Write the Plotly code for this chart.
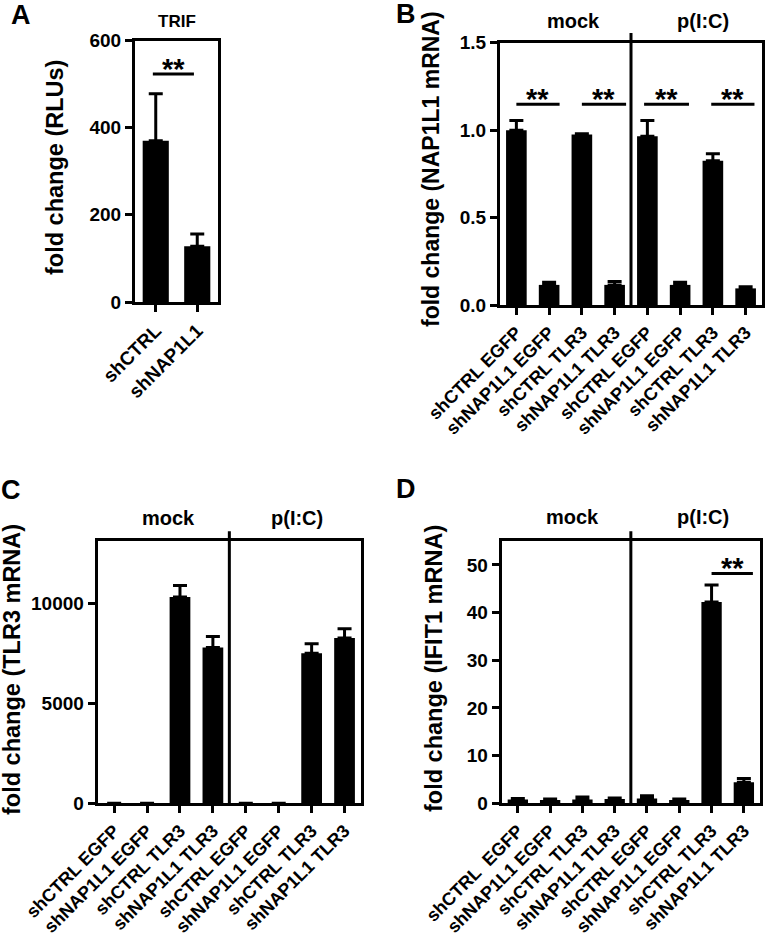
import plotly.graph_objects as go

# ---------------- data ----------------
A_cats = ["shCTRL", "shNAP1L1"]
A_vals = [370, 128]
A_sem = [108, 28]

grp_labels = ["shCTRL EGFP", "shNAP1L1 EGFP", "shCTRL TLR3", "shNAP1L1 TLR3",
              "shCTRL EGFP", "shNAP1L1 EGFP", "shCTRL TLR3", "shNAP1L1 TLR3"]
D_labels = ["shCTRL\u00a0 EGFP", "shNAP1L1 EGFP", "shCTRL TLR3", "shNAP1L1 TLR3",
            "shCTRL EGFP", "shNAP1L1 EGFP", "shCTRL TLR3", "shNAP1L1 TLR3"]

B_vals = [1.0, 0.115, 0.975, 0.115, 0.965, 0.115, 0.825, 0.095]
B_sem = [0.055, 0.015, 0.005, 0.02, 0.09, 0.015, 0.04, 0.01]

C_vals = [1, 1, 10300, 7780, 1, 1, 7500, 8250]
C_sem = [0, 0, 580, 550, 0, 0, 470, 470]

D_vals = [0.8, 0.7, 0.8, 0.9, 1.0, 0.7, 42.2, 4.4]
D_sem = [0.2, 0.2, 0.5, 0.2, 0.6, 0.2, 3.6, 0.8]

# significance bars: (x0, x1, y)
A_sig = [(-0.07, 0.92, 523)]
B_sig = [(0.0, 1.32, 1.148), (2.0, 3.35, 1.148), (3.9, 5.27, 1.148), (5.95, 7.27, 1.148)]
D_sig = [(6.0, 7.28, 48.2)]

W, H = 766, 943
FONT = "Liberation Sans, Arial, sans-serif"


def px(x):
    return x / W


def py(y):
    return 1 - y / H


fig = go.Figure()

idx8 = list(range(len(grp_labels)))

err_style = dict(type="data", symmetric=False, color="black", thickness=3, width=7)

fig.add_trace(go.Bar(x=A_cats, y=A_vals, marker=dict(color="black", line=dict(width=0)),
                     error_y=dict(array=A_sem, arrayminus=[0] * len(A_sem), **err_style),
                     xaxis="x", yaxis="y", showlegend=False, hoverinfo="skip"))
fig.add_trace(go.Bar(x=idx8, y=B_vals, marker=dict(color="black", line=dict(width=0)),
                     error_y=dict(array=B_sem, arrayminus=[0] * 8, **err_style),
                     xaxis="x2", yaxis="y2", showlegend=False, hoverinfo="skip"))
fig.add_trace(go.Bar(x=idx8, y=C_vals, marker=dict(color="black", line=dict(width=0)),
                     error_y=dict(array=C_sem, arrayminus=[0] * 8, **err_style),
                     xaxis="x3", yaxis="y3", showlegend=False, hoverinfo="skip"))
fig.add_trace(go.Bar(x=idx8, y=D_vals, marker=dict(color="black", line=dict(width=0)),
                     error_y=dict(array=D_sem, arrayminus=[0] * 8, **err_style),
                     xaxis="x4", yaxis="y4", showlegend=False, hoverinfo="skip"))

ytickfont = dict(family=FONT, size=19, color="black", weight="bold")
xtickfont = dict(family=FONT, size=19, color="black", weight="bold")
xtickfont_s = dict(family=FONT, size=18, color="black", weight="bold")

axis_common = dict(showline=True, linewidth=3, linecolor="black", mirror=True,
                   ticks="outside", ticklen=7, tickwidth=3, tickcolor="black",
                   showgrid=False, zeroline=False, fixedrange=True, automargin=False)

# domains (pixels)
dom = {
    "A": ((135, 218), (40.5, 302)),
    "B": ((500, 762), (42.7, 305)),
    "C": ((97.7, 361), (541, 803.3)),
    "D": ((501.7, 760), (541, 803.3)),
}


def xd(k):
    (x0, x1), _ = dom[k]
    return [px(x0), px(x1)]


def yd(k):
    _, (y0, y1) = dom[k]
    return [py(y1), py(y0)]


fig.update_layout(
    template="none",
    width=W, height=H, margin=dict(l=0, r=0, t=0, b=0, autoexpand=False),
    paper_bgcolor="white", plot_bgcolor="white", bargap=0.37,
    font=dict(family=FONT, color="black"),
    xaxis=dict(domain=xd("A"), anchor="y", type="category", tickangle=-45,
               tickfont=xtickfont, **axis_common),
    yaxis=dict(domain=yd("A"), anchor="x", range=[0, 600], tickvals=[0, 200, 400, 600],
               tickfont=ytickfont, **axis_common),
    xaxis2=dict(domain=xd("B"), anchor="y2", range=[-0.5, 7.5], tickvals=idx8,
                ticktext=grp_labels, tickangle=-45, tickfont=xtickfont_s, **axis_common),
    yaxis2=dict(domain=yd("B"), anchor="x2", range=[0, 1.5], tickvals=[0, 0.5, 1.0, 1.5],
                tickformat=".1f", tickfont=ytickfont, **axis_common),
    xaxis3=dict(domain=xd("C"), anchor="y3", range=[-0.5, 7.5], tickvals=idx8,
                ticktext=grp_labels, tickangle=-45, tickfont=xtickfont_s, **axis_common),
    yaxis3=dict(domain=yd("C"), anchor="x3", range=[0, 13100], tickvals=[0, 5000, 10000],
                tickformat="d", tickfont=ytickfont, **axis_common),
    xaxis4=dict(domain=xd("D"), anchor="y4", range=[-0.5, 7.5], tickvals=idx8,
                ticktext=D_labels, tickangle=-45, tickfont=xtickfont_s, **axis_common),
    yaxis4=dict(domain=yd("D"), anchor="x4", range=[0, 55], tickvals=[0, 10, 20, 30, 40, 50],
                tickfont=ytickfont, **axis_common),
)

shapes = []
annos = []

bold = lambda s: dict(family=FONT, size=s, color="black", weight="bold")


def add_sig(sigs, xr, yr):
    for x0, x1, y in sigs:
        shapes.append(dict(type="line", xref=xr, yref=yr, x0=x0, x1=x1, y0=y, y1=y,
                           line=dict(color="black", width=3)))
        annos.append(dict(xref=xr, yref=yr, x=(x0 + x1) / 2, y=y, text="**", showarrow=False,
                          xanchor="center", yanchor="middle", yshift=5, font=bold(29)))


add_sig(A_sig, "x", "y")
add_sig(B_sig, "x2", "y2")
add_sig(D_sig, "x4", "y4")

# mock / p(I:C) dividers
for xr, yr in (("x2", "y2 domain"), ("x3", "y3 domain"), ("x4", "y4 domain")):
    shapes.append(dict(type="line", xref=xr, yref=yr, x0=3.5, x1=3.5, y0=0, y1=1.037,
                       line=dict(color="black", width=3)))


def txt(x, y, t, size, angle=0):
    annos.append(dict(xref="paper", yref="paper", x=px(x), y=py(y), text=t, showarrow=False,
                      xanchor="center", yanchor="middle", textangle=angle, font=bold(size)))


# panel letters
txt(21, 15, "A", 27)
txt(406, 14, "B", 27)
txt(11, 490, "C", 27)
txt(406, 489, "D", 27)

# headers
txt(177, 21, "TRIF", 17)
txt(573, 21, "mock", 20)
txt(703, 21, "p(I:C)", 20)
txt(168, 518, "mock", 20)
txt(297, 518, "p(I:C)", 20)
txt(572, 517, "mock", 20)
txt(703, 517, "p(I:C)", 20)

# y titles
txt(55, 168, "fold change (RLUs)", 23.5, -90)
txt(431, 169, "fold change (NAP1L1 mRNA)", 23, -90)
txt(12, 670, "fold change (TLR3 mRNA)", 23.5, -90)
txt(434, 669, "fold change (IFIT1 mRNA)", 23.5, -90)

fig.update_layout(shapes=shapes, annotations=annos)

fig.write_html("out.html", config={"displayModeBar": False, "staticPlot": True},
               post_script="document.body.style.margin='0';document.body.style.padding='0';")
